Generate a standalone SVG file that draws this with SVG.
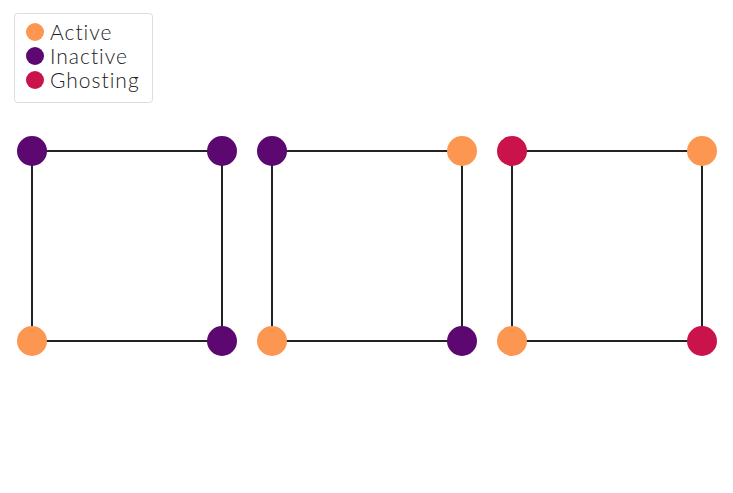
<svg xmlns="http://www.w3.org/2000/svg" width="733" height="493" viewBox="0 0 733 493">
<style>
.edge{stroke:#222;stroke-width:2;fill:none}
.active{fill:#fd9650}
.inactive{fill:#5c0870}
.ghost{fill:#cb134b}
.lbl{font-family:"Lato","Liberation Sans",sans-serif;font-weight:300;font-size:21px;letter-spacing:1px;fill:#222}
</style>
<rect width="733" height="493" fill="#fff"/>
<g id="legend">
<rect x="14.5" y="13.5" width="138" height="89" rx="3" fill="#fff" stroke="#ddd"/>
<circle class="active" cx="35" cy="32" r="9"/>
<circle class="inactive" cx="35" cy="56" r="9"/>
<circle class="ghost" cx="35" cy="80" r="9"/>
<text class="lbl" x="50" y="40">Active</text>
<text class="lbl" x="50" y="64">Inactive</text>
<text class="lbl" x="50" y="88">Ghosting</text>
</g>
<g id="connectors">
<path class="edge" d="M32 151H222V341H32Z"/>
<path class="edge" d="M272 151H462V341H272Z"/>
<path class="edge" d="M512 151H702V341H512Z"/>
</g>
<g id="n1"><circle class="inactive" cx="32" cy="151" r="15"/></g>
<g id="n2"><circle class="inactive" cx="222" cy="151" r="15"/></g>
<g id="n3"><circle class="active" cx="32" cy="341" r="15"/></g>
<g id="n4"><circle class="inactive" cx="222" cy="341" r="15"/></g>
<g id="n5"><circle class="inactive" cx="272" cy="151" r="15"/></g>
<g id="n6"><circle class="active" cx="462" cy="151" r="15"/></g>
<g id="n7"><circle class="active" cx="272" cy="341" r="15"/></g>
<g id="n8"><circle class="inactive" cx="462" cy="341" r="15"/></g>
<g id="n9"><circle class="ghost" cx="512" cy="151" r="15"/></g>
<g id="n10"><circle class="active" cx="702" cy="151" r="15"/></g>
<g id="n11"><circle class="active" cx="512" cy="341" r="15"/></g>
<g id="n12"><circle class="ghost" cx="702" cy="341" r="15"/></g>
</svg>
